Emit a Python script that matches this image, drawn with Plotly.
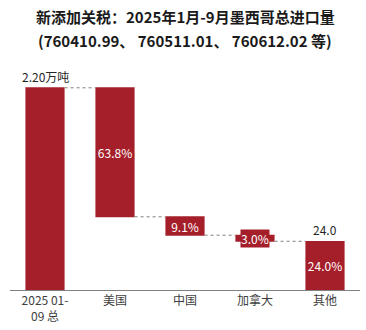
import plotly.graph_objects as go

categories = ["2025 01-<br>09 总", "美国", "中国", "加拿大", "其他"]
measures = ["absolute", "relative", "relative", "relative", "absolute"]
values = [100, -63.8, -9.1, -3.0, 24.0]
share_labels = ["", "63.8%", "9.1%", "", "24.0%"]
total_label = "2.20万吨"
others_top_label = "24.0"
canada_label = "3.0%"
title_lines = ["新添加关税：2025年1月-9月墨西哥总进口量", "(760410.99、 760511.01、 760612.02 等)"]

RED = "#A51F2B"
FONT = "Noto Sans CJK SC"

fig = go.Figure()
fig.add_trace(go.Waterfall(
    x=categories,
    measure=measures,
    y=values,
    text=share_labels,
    textposition="inside",
    textangle=0,
    insidetextanchor="middle",
    textfont=dict(color="white", size=12, family=FONT),
    insidetextfont=dict(color="white", size=12, family=FONT),
    constraintext="none",
    width=0.56,
    decreasing=dict(marker=dict(color=RED, line=dict(width=0))),
    increasing=dict(marker=dict(color=RED, line=dict(width=0))),
    totals=dict(marker=dict(color=RED, line=dict(width=0))),
    connector=dict(mode="between", line=dict(color="#7f7f7f", width=1, dash="dot")),
    hoverinfo="skip",
))

levels = []
cur = 0
for m, v in zip(measures, values):
    cur = v if m == "absolute" else cur + v
    levels.append(cur)

fig.add_annotation(x=categories[0], y=values[0], text=total_label, showarrow=False,
                   yanchor="bottom", yshift=1, font=dict(size=12, color="#262626", family=FONT))
fig.add_annotation(x=categories[4], y=values[4], text=others_top_label, showarrow=False,
                   yanchor="bottom", yshift=1, font=dict(size=12, color="#262626", family=FONT))
canada_mid = levels[3] - values[3] / 2
fig.add_annotation(x=categories[3], y=canada_mid, text=canada_label, showarrow=False,
                   yanchor="middle", bgcolor=RED, borderpad=0,
                   font=dict(size=12, color="white", family=FONT))

for i, (line, ypos) in enumerate(zip(title_lines, [1.241, 1.135])):
    fig.add_annotation(xref="paper", yref="paper", x=0.5, y=ypos, text="<b>" + line + "</b>",
                       showarrow=False, xanchor="center", yanchor="middle",
                       font=dict(size=15, color="#1a1a1a", family=FONT))

fig.update_layout(
    width=366, height=330,
    margin=dict(l=10, r=6, t=70, b=38),
    paper_bgcolor="white", plot_bgcolor="white",
    showlegend=False,
    xaxis=dict(showline=True, linecolor="#808080", linewidth=1, ticks="",
               tickfont=dict(size=12, color="#404040", family=FONT), fixedrange=True),
    yaxis=dict(visible=False, range=[0, 108.8], fixedrange=True),
)

fig.write_html("out.html")
